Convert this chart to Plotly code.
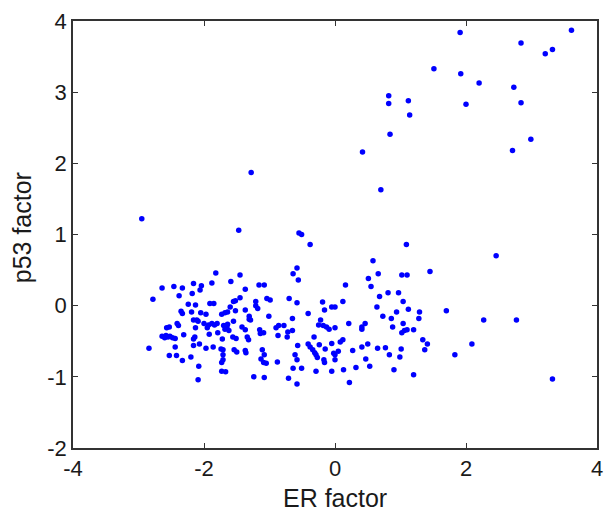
import plotly.graph_objects as go

# ER factor (x) and p53 factor (y) values
er_factor = [
    -2.95, -1.28, -1.47, -0.55, -0.51, -0.38,
    1.91, 3.61, 2.84, 3.21, 3.32, 1.51, 1.92, 2.20, 2.73, 0.82, 0.82, 1.12, 1.14,
    2.00, 2.84, 0.84, 2.99, 0.42, 2.71, 0.70,
    1.09, 2.46, 0.58, 0.66, 1.02, 1.10, 1.45, 0.16, 0.51, 0.55, 0.68, 0.81, 0.97,
    1.04, 0.12, -0.05, 0.00, 0.64, 1.12, 1.29, 1.70, 0.94, 0.73, 0.86, 1.28, 2.27,
    2.77, 0.21, 0.46, 0.41, 0.41, 0.00, 0.88, 1.04, 1.02, 1.06, 1.10, 1.20, 1.34,
    1.41, 1.37, 2.09, -0.05, 0.08, 0.12, 0.50, 0.41, 0.65, 0.77, 1.01, 0.27, 0.05,
    0.00, 0.83, 0.99, 1.83, 0.00, 0.47, 0.53, 0.32, -0.05, 0.13, 0.90, 1.20, 0.22,
    3.32,
    -1.82, -1.45, -0.58, -0.64, -0.56, -1.88, -1.59, -2.16, -2.04, -2.06, -2.46,
    -2.33, -2.64, -2.78, -2.38, -2.18, -1.37, -1.45, -1.16, -1.08, -1.21, -1.21,
    -1.04, -0.99, -0.70, -0.58, -0.19, -2.24, -2.13, -1.91, -1.85, -1.55, -1.52,
    -1.60, -1.37, -1.18, -0.41, -0.16, -2.35, -2.33, -2.19, -2.05, -1.97, -1.73,
    -1.68, -1.64, -1.52, -1.31, -1.31, -1.29, -1.01, -0.65, -0.22, -2.16, -2.11,
    -2.09, -2.00, -1.93, -1.88, -1.84, -1.80, -1.70, -1.68, -1.65, -1.62, -1.64,
    -1.95, -2.13, -2.41, -2.39, -2.57, -2.53, -1.55, -1.37, -1.42, -1.15, -1.14,
    -1.09, -0.90, -0.86, -0.78, -0.72, -0.65, -0.25, -0.18, -0.13, -0.09,
    -2.64, -2.60, -2.58, -2.55, -2.52, -2.48, -2.44, -2.31, -2.16, -2.14, -1.92,
    -1.79, -1.72, -1.56, -1.51, -1.34, -1.32, -0.87, -0.73, -0.32,
    -2.84, -2.44, -2.16, -2.07, -1.97, -1.86, -1.74, -1.71, -1.54, -1.50, -1.37,
    -1.36, -1.11, -1.08, -0.57, -0.41, -0.38, -0.34, -0.31, -0.29, -0.27, -0.24,
    -0.15, -0.02, -2.53, -2.42, -2.33, -2.20, -1.71, -1.71, -1.73, -1.13, -1.09,
    -1.05, -0.88, -0.61, -0.58, -0.17, -0.16, -2.08, -1.73, -1.67, -1.24, -1.08,
    -0.71, -0.64, -0.51, -0.58, -0.29, -2.09,
]
p53_factor = [
    1.22, 1.87, 1.06, 1.02, 1.00, 0.86,
    3.84, 3.87, 3.69, 3.54, 3.60, 3.33, 3.26, 3.13, 3.07, 2.95, 2.84, 2.88, 2.68,
    2.83, 2.85, 2.41, 2.34, 2.16, 2.18, 1.63,
    0.86, 0.70, 0.63, 0.45, 0.43, 0.43, 0.48, 0.29, 0.38, 0.27, 0.13, 0.18, 0.18,
    0.06, 0.06, -0.02, -0.02, -0.02, -0.05, -0.09, -0.07, -0.09, -0.15, -0.18, -0.18, -0.20,
    -0.20, -0.25, -0.25, -0.33, -0.30, -0.31, -0.30, -0.25, -0.38, -0.35, -0.34, -0.34, -0.48,
    -0.54, -0.62, -0.54, -0.53, -0.51, -0.48, -0.54, -0.58, -0.60, -0.59, -0.61, -0.63, -0.64,
    -0.69, -0.69, -0.72, -0.69, -0.76, -0.75, -0.85, -0.87, -0.92, -0.90, -0.90, -0.97, -1.08,
    -1.03,
    0.46, 0.43, 0.53, 0.45, 0.36, 0.32, 0.34, 0.31, 0.28, 0.22, 0.27,
    0.25, 0.25, 0.09, 0.14, 0.17, 0.23, 0.11, 0.29, 0.29, 0.06, 0.00,
    0.10, 0.08, 0.10, 0.04, 0.05, 0.02, 0.01, 0.03, 0.03, 0.06, 0.07,
    -0.02, -0.06, -0.04, -0.11, -0.06, -0.08, -0.11, -0.09, -0.10, -0.12, -0.12,
    -0.10, -0.09, -0.07, -0.15, -0.19, -0.20, -0.15, -0.18, -0.20, -0.20, -0.20,
    -0.22, -0.25, -0.27, -0.25, -0.27, -0.25, -0.28, -0.33, -0.30, -0.35, -0.26,
    -0.31, -0.31, -0.25, -0.28, -0.31, -0.30, -0.22, -0.34, -0.30, -0.34, -0.39,
    -0.38, -0.31, -0.28, -0.28, -0.37, -0.35, -0.27, -0.28, -0.30, -0.33,
    -0.43, -0.45, -0.42, -0.44, -0.43, -0.45, -0.46, -0.41, -0.47, -0.44, -0.40,
    -0.38, -0.47, -0.44, -0.46, -0.44, -0.48, -0.42, -0.44, -0.44,
    -0.60, -0.58, -0.56, -0.54, -0.60, -0.58, -0.61, -0.62, -0.62, -0.65, -0.63,
    -0.66, -0.62, -0.69, -0.56, -0.54, -0.58, -0.62, -0.66, -0.69, -0.73, -0.55,
    -0.61, -0.67, -0.70, -0.70, -0.77, -0.72, -0.69, -0.76, -0.80, -0.75, -0.80,
    -0.81, -0.79, -0.69, -0.76, -0.76, -0.80, -0.85, -0.92, -0.93, -1.00, -1.01,
    -1.02, -0.88, -0.88, -1.10, -0.92, -1.04,
]

x_ticks = [-4, -2, 0, 2, 4]
y_ticks = [-2, -1, 0, 1, 2, 3, 4]
x_title = "ER factor"
y_title = "p53 factor"

FONT = "Liberation Sans, Arial, sans-serif"

fig = go.Figure()
fig.add_trace(go.Scatter(
    x=er_factor, y=p53_factor, mode="markers",
    marker=dict(color="#0000ff", size=5.5, line=dict(width=0)),
    hoverinfo="skip",
))

axis_common = dict(
    showgrid=False, zeroline=False, showline=True, mirror="ticks",
    linecolor="#333333", linewidth=1.5, automargin=False,
    ticks="inside", ticklen=5, tickwidth=1, tickcolor="#333333",
    tickfont=dict(family=FONT, size=22, color="#1a1a1a"),
)

fig.update_xaxes(range=[-4, 4], tickvals=x_ticks,
                 ticktext=[str(v) for v in x_ticks], **axis_common)
fig.update_yaxes(range=[-2, 4], tickvals=y_ticks,
                 ticktext=[str(v) for v in y_ticks], **axis_common)

title_font = dict(family=FONT, size=25, color="#1a1a1a")
fig.add_annotation(text=x_title, xref="paper", yref="paper",
                   x=0.5, y=-0.118, xanchor="center", yanchor="middle",
                   showarrow=False, font=title_font)
fig.add_annotation(text=y_title, xref="paper", yref="paper",
                   x=-0.097, y=0.515, xanchor="center", yanchor="middle",
                   textangle=-90, showarrow=False, font=title_font)

fig.update_layout(
    width=610, height=513,
    margin=dict(l=73, r=13, t=21, b=65),
    paper_bgcolor="white", plot_bgcolor="white",
    showlegend=False,
)

fig.write_html("out.html",
               config={"displayModeBar": False},
               post_script="document.body.style.margin='0';document.body.style.overflow='hidden';")
